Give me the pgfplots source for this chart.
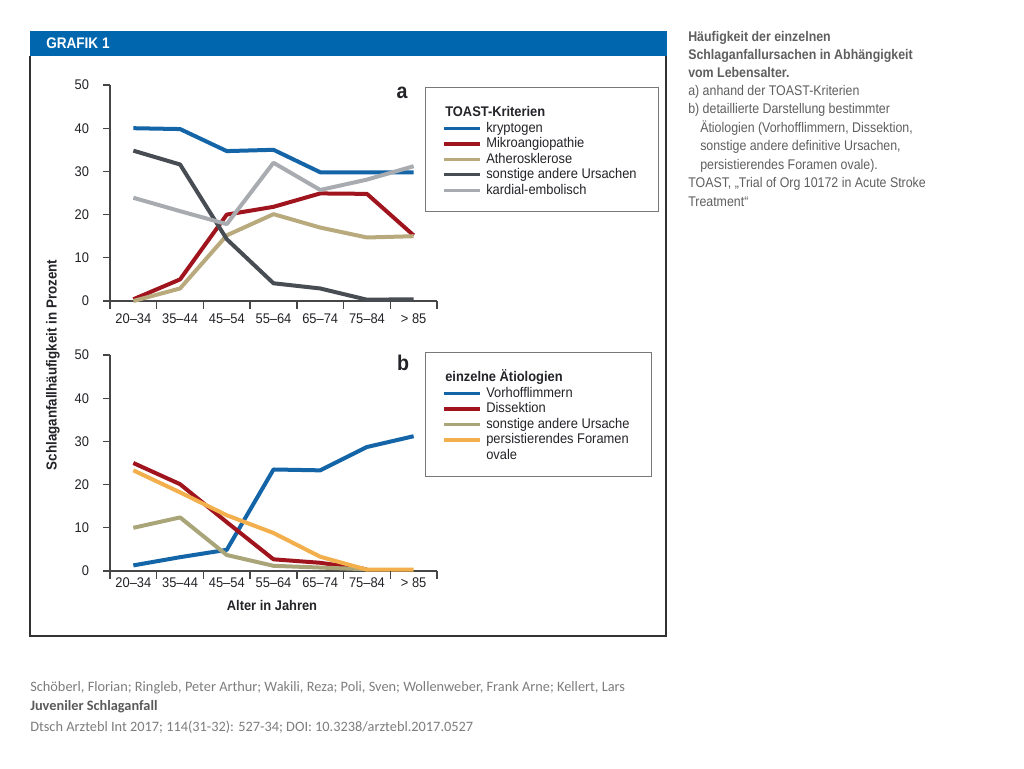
\documentclass[border=0pt]{standalone}
\usepackage{fontspec}
\setmainfont{Liberation Sans}[FakeStretch=0.92]
\newfontfamily\rtfont{Liberation Sans}[FakeStretch=0.885]
\newfontfamily\citefont{Carlito}
\usepackage{pgfplots}
\pgfplotsset{compat=1.18}
\definecolor{headerblue}{RGB}{0,102,174}
\definecolor{framecol}{RGB}{50,50,50}
\definecolor{axisgray}{RGB}{70,70,70}
\definecolor{textdark}{RGB}{35,35,40}
\definecolor{legendgray}{RGB}{120,120,120}
\definecolor{cBlue}{RGB}{20,100,168}
\definecolor{cRed}{RGB}{160,20,30}
\definecolor{cTan}{RGB}{184,170,125}
\definecolor{cDark}{RGB}{72,77,83}
\definecolor{cLight}{RGB}{168,171,175}
\definecolor{cOlive}{RGB}{170,165,120}
\definecolor{cOrange}{RGB}{242,175,75}
\definecolor{rtgray}{RGB}{95,95,95}
\definecolor{citegray}{RGB}{125,125,125}
\definecolor{citebold}{RGB}{90,90,90}
\pgfplotsset{
  panel/.style={
    scale only axis, width=245.25pt, height=162pt,
    xmin=-0.5, xmax=6.5, ymin=0, ymax=50,
    axis lines=left,
    axis line style={draw=axisgray, line width=0.8pt, -},
    tick style={draw=axisgray, line width=0.8pt},
    tick align=outside, major tick length=5.25pt,
    xtick={0,1,2,3,4,5,6},
    xticklabels={20–34,35–44,45–54,55–64,65–74,75–84,> 85},
    major x tick style={draw=none},
    ytick={0,10,...,50},
    /pgf/number format/assume math mode=true,
    ticklabel style={font=\fontsize{10.5}{12}\selectfont, text=textdark},
    yticklabel style={xshift=-7pt},
    clip=false,
    every axis plot/.append style={line width=3pt, line join=round},
    legend image code/.code={\draw[#1, line width=2.5pt] (0pt,2.8pt) -- (27pt,2.8pt);},
    legend style={anchor=north west, draw=legendgray, line width=0.6pt,
      inner xsep=12.75pt, inner ysep=10pt,
      cells={anchor=base west},
      nodes={inner xsep=3.5pt, inner ysep=0pt, text height=8.6pt, text depth=3pt,
        font=\fontsize{10.5}{12}\selectfont, text=textdark}},
  }
}
\begin{document}
\begin{tikzpicture}
\begin{scope}[x=0.75pt,y=0.75pt]
\path[use as bounding box, fill=white] (0,0) rectangle (1024,768);
% frame and header
\draw[framecol, line width=1.1pt] (30,712) -- (30,132) -- (666,132) -- (666,712);
\fill[headerblue] (29.5,737) rectangle (666.5,712);
\node[anchor=west, inner sep=0pt, text=white, font=\rtfont\bfseries\fontsize{11.5}{12}\selectfont] at (46,724.5) {GRAFIK 1};
\end{scope}

% panel a
\begin{axis}[panel, at={(82.5pt,350.25pt)}, anchor=south west,
  xticklabel style={yshift=-1pt},
  legend style={at={(rel axis cs:0.963,0.991)}}]
\addlegendimage{empty legend}
\addlegendentry[text height=12pt]{\hspace*{-30.75pt}\textbf{TOAST-Kriterien}}
\addplot[cBlue] coordinates {(0,40.0)(1,39.8)(2,34.7)(3,35.0)(4,29.8)(5,29.8)(6,29.8)};
\addlegendentry{kryptogen}
\addplot[cRed] coordinates {(0,0.4)(1,5.0)(2,20.0)(3,21.8)(4,24.9)(5,24.8)(6,15.2)};
\addlegendentry{Mikroangiopathie}
\addplot[cTan] coordinates {(0,0.0)(1,2.9)(2,15.2)(3,20.1)(4,17.0)(5,14.7)(6,15.0)};
\addlegendentry{Atherosklerose}
\addplot[cDark] coordinates {(0,34.8)(1,31.6)(2,14.3)(3,4.1)(4,2.9)(5,0.3)(6,0.4)};
\addlegendentry{sonstige andere Ursachen}
\addplot[cLight] coordinates {(0,23.9)(1,20.8)(2,17.8)(3,32.0)(4,25.7)(5,28.1)(6,31.2)};
\addlegendentry{kardial-embolisch}
\pgfplotsinvokeforeach{0,1,2,3,4,5,6,7}{\coordinate (ta#1) at (axis cs:#1-0.5,0);}
\node[font=\bfseries\fontsize{16}{16}\selectfont, text=textdark] at (rel axis cs:0.893,0.963) {a};
\end{axis}

% panel b
\begin{axis}[panel, at={(82.5pt,147.75pt)}, anchor=south west,
  xticklabel style={yshift=3.5pt},
  legend style={at={(rel axis cs:0.963,1.014)}}]
\addlegendimage{empty legend}
\addlegendentry[text height=12pt]{\hspace*{-30.75pt}\textbf{einzelne Ätiologien}}
\addplot[cBlue] coordinates {(0,1.3)(1,3.2)(2,4.9)(3,23.5)(4,23.3)(5,28.7)(6,31.2)};
\addlegendentry{Vorhofflimmern}
\addplot[cRed] coordinates {(0,25.0)(1,20.1)(2,11.3)(3,2.7)(4,1.9)(5,0.4)};
\addlegendentry{Dissektion}
\addplot[cOlive] coordinates {(0,10.0)(1,12.4)(2,3.7)(3,1.2)(4,0.8)(5,0.4)};
\addlegendentry{sonstige andere Ursache}
\addplot[cOrange] coordinates {(0,23.3)(1,18.2)(2,12.9)(3,8.8)(4,3.3)(5,0.3)(6,0.3)};
\addlegendentry{persistierendes Foramen}
\addlegendimage{empty legend}
\addlegendentry{ovale}
\pgfplotsinvokeforeach{0,1,2,3,4,5,6,7}{\coordinate (tb#1) at (axis cs:#1-0.5,0);}
\node[font=\bfseries\fontsize{16}{16}\selectfont, text=textdark] at (rel axis cs:0.896,0.963) {b};
\end{axis}

\begin{scope}[x=0.75pt,y=0.75pt]
% shared labels
\node[rotate=90, font=\bfseries\fontsize{10.9}{12}\selectfont, text=textdark] at (53,403) {Schlaganfallhäufigkeit in Prozent};
\node[font=\bfseries\fontsize{10.5}{12}\selectfont, text=textdark] at (272,163) {Alter in Jahren};

% right-hand caption
\begin{scope}[every node/.style={anchor=base west, inner sep=0pt, font=\rtfont\fontsize{10.5}{12}\selectfont, text=rtgray}]
\node[font=\rtfont\bfseries\fontsize{10.5}{12}\selectfont] at (688,726) {Häufigkeit der einzelnen};
\node[font=\rtfont\bfseries\fontsize{10.5}{12}\selectfont] at (688,708) {Schlaganfallursachen in Abhängigkeit};
\node[font=\rtfont\bfseries\fontsize{10.5}{12}\selectfont] at (688,690) {vom Lebensalter.};
\node at (688,672) {a) anhand der TOAST-Kriterien};
\node at (688,654) {b) detaillierte Darstellung bestimmter};
\node at (700,635.5) {Ätiologien (Vorhofflimmern, Dissektion,};
\node at (700,617) {sonstige andere definitive Ursachen,};
\node at (700,598.5) {persistierendes Foramen ovale).};
\node at (688,580) {TOAST, „Trial of Org 10172 in Acute Stroke};
\node at (688,561.5) {Treatment“};
\end{scope}

% citation
\begin{scope}[every node/.style={anchor=base west, inner sep=0pt, font=\citefont\fontsize{10.75}{12}\selectfont, text=citegray}]
\node at (30,77) {Schöberl, Florian; Ringleb, Peter Arthur; Wakili, Reza; Poli, Sven; Wollenweber, Frank Arne; Kellert, Lars};
\node[font=\citefont\bfseries\fontsize{10.75}{12}\selectfont, text=citebold] at (30,58) {Juveniler Schlaganfall};
\node at (30,37) {Dtsch Arztebl Int 2017; 114(31-32): 527-34; DOI: 10.3238/arztebl.2017.0527};
\end{scope}
\end{scope}

% category separators under both x axes, drawn last
\foreach \i in {0,...,7} {
  \draw[axisgray, line width=1.1pt] (ta\i) -- ++(0pt,-6pt);
  \draw[axisgray, line width=1.1pt] (tb\i) -- ++(0pt,-6pt);
}
\end{tikzpicture}
\end{document}
